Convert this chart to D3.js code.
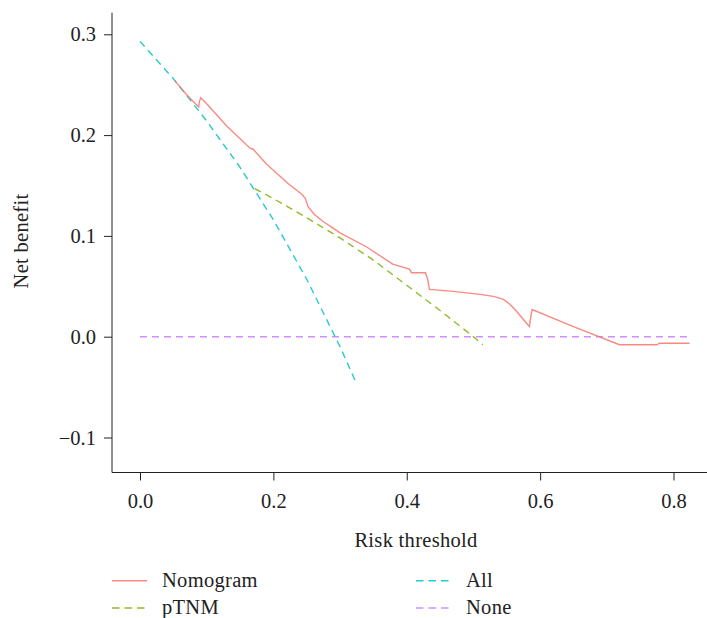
<!doctype html>
<html lang="en">
<head>
  <meta charset="utf-8">
  <title>Decision curve</title>
  <style>
    body { margin: 0; background: #fff; }
    svg { display: block; font-family: "Liberation Serif", "DejaVu Serif", serif; }
    .axis line, .axis path { stroke: #222; }
    .axis text { fill: #222; font-size: 20.5px; font-family: "Liberation Serif", serif; }
    .curve { fill: none; stroke-width: 1.4; stroke-opacity: 0.85; }
    .label { fill: #222; font-size: 20.5px; letter-spacing: 0.3px; }
  </style>
</head>
<body>
  <div id="chart"></div>
  <script src="https://d3js.org/d3.v7.min.js"></script>
  <script>
// values
const xTicks = [0, 0.2, 0.4, 0.6, 0.8];
const yTicks = [-0.1, 0, 0.1, 0.2, 0.3];

const nomogram = [
  [0.052, 0.254], [0.07, 0.240], [0.088, 0.228], [0.089, 0.233], [0.091, 0.237],
  [0.10, 0.231], [0.13, 0.209], [0.165, 0.187], [0.170, 0.186], [0.175, 0.182],
  [0.19, 0.171], [0.222, 0.152], [0.243, 0.141], [0.248, 0.137], [0.252, 0.129],
  [0.262, 0.121], [0.275, 0.114], [0.289, 0.108], [0.30, 0.103], [0.34, 0.089],
  [0.379, 0.072], [0.404, 0.067], [0.407, 0.0635], [0.428, 0.0635], [0.431, 0.058],
  [0.434, 0.047], [0.47, 0.045], [0.51, 0.042], [0.53, 0.040], [0.545, 0.037],
  [0.555, 0.032], [0.565, 0.025], [0.575, 0.017], [0.584, 0.010], [0.586, 0.020],
  [0.588, 0.027], [0.65, 0.010], [0.719, -0.008], [0.775, -0.008], [0.779, -0.0065],
  [0.824, -0.0065]
];
const ptnm = [
  [0.172, 0.147], [0.2, 0.137], [0.25, 0.118], [0.3, 0.098], [0.35, 0.076],
  [0.4, 0.051], [0.45, 0.026], [0.5, 0.000], [0.514, -0.008]
];
const all = [
  [0, 0.293], [0.05, 0.256], [0.1, 0.214], [0.15, 0.168], [0.2, 0.116],
  [0.25, 0.057], [0.3, -0.010], [0.323, -0.044]
];
const none = [[0, 0], [0.825, 0]];

const seriesNames = ['Nomogram', 'pTNM', 'All', 'None'];
const seriesColors = ['#F8766D', '#7CAE00', '#00BFC4', '#C77CFF'];
const seriesDashed = [false, true, true, true];
const seriesData = [nomogram, ptnm, all, none];

const width = 707;
const height = 618;

const svg = d3.select('#chart')
  .append('svg')
  .attr('width', width)
  .attr('height', height);

const x = d3.scaleLinear().domain([0, 0.8]).range([140, 673.5]);
const y = d3.scaleLinear().domain([-0.1, 0.3]).range([437.5, 34.3]);

// axes (axis lines drawn separately, R style)
const xAxis = svg.append('g')
  .attr('class', 'axis')
  .attr('transform', 'translate(0,472.5)')
  .call(d3.axisBottom(x).tickValues(xTicks).tickFormat(d3.format('.1f')).tickSize(8).tickPadding(13));
xAxis.select('.domain').remove();

const yAxis = svg.append('g')
  .attr('class', 'axis')
  .attr('transform', 'translate(112,0)')
  .call(d3.axisLeft(y).tickValues(yTicks)
    .tickFormat(d => d3.format('.1f')(d).replace('-', '\u2212'))
    .tickSize(8).tickPadding(8));
yAxis.select('.domain').remove();

svg.append('line')
  .attr('x1', 112).attr('x2', 707)
  .attr('y1', 472.5).attr('y2', 472.5)
  .attr('stroke', '#222');
svg.append('line')
  .attr('x1', 112).attr('x2', 112)
  .attr('y1', 12.7).attr('y2', 472.5)
  .attr('stroke', '#222');

// axis titles
svg.append('text')
  .attr('class', 'label')
  .attr('x', 416).attr('y', 546.5)
  .attr('text-anchor', 'middle')
  .text('Risk threshold');

svg.append('text')
  .attr('class', 'label')
  .attr('transform', 'translate(28,241) rotate(-90)')
  .attr('text-anchor', 'middle')
  .text('Net benefit');

// curves
const line = d3.line()
  .x(d => x(d[0]))
  .y(d => y(d[1]));

// draw None and All first, then pTNM, then Nomogram on top
[3, 2, 1, 0].forEach(i => {
  svg.append('path')
    .datum(seriesData[i])
    .attr('class', 'curve')
    .attr('d', line)
    .attr('stroke', seriesColors[i])
    .attr('stroke-dasharray', seriesDashed[i] ? '7,5' : null);
});

// legend
const legendPos = [[112, 580.7], [112, 608], [416, 580.7], [416, 608]];

const legend = svg.append('g')
  .selectAll('g')
  .data(seriesNames)
  .join('g')
  .attr('transform', (d, i) => 'translate(' + legendPos[i][0] + ',' + legendPos[i][1] + ')');

legend.append('line')
  .attr('x1', 0).attr('x2', 35)
  .attr('stroke', (d, i) => seriesColors[i])
  .attr('stroke-width', 1.4)
  .attr('stroke-opacity', 0.85)
  .attr('stroke-dasharray', (d, i) => seriesDashed[i] ? '7.5,5' : null);

legend.append('text')
  .attr('class', 'label')
  .attr('x', 50)
  .attr('y', 6)
  .text(d => d);
  </script>
</body>
</html>
